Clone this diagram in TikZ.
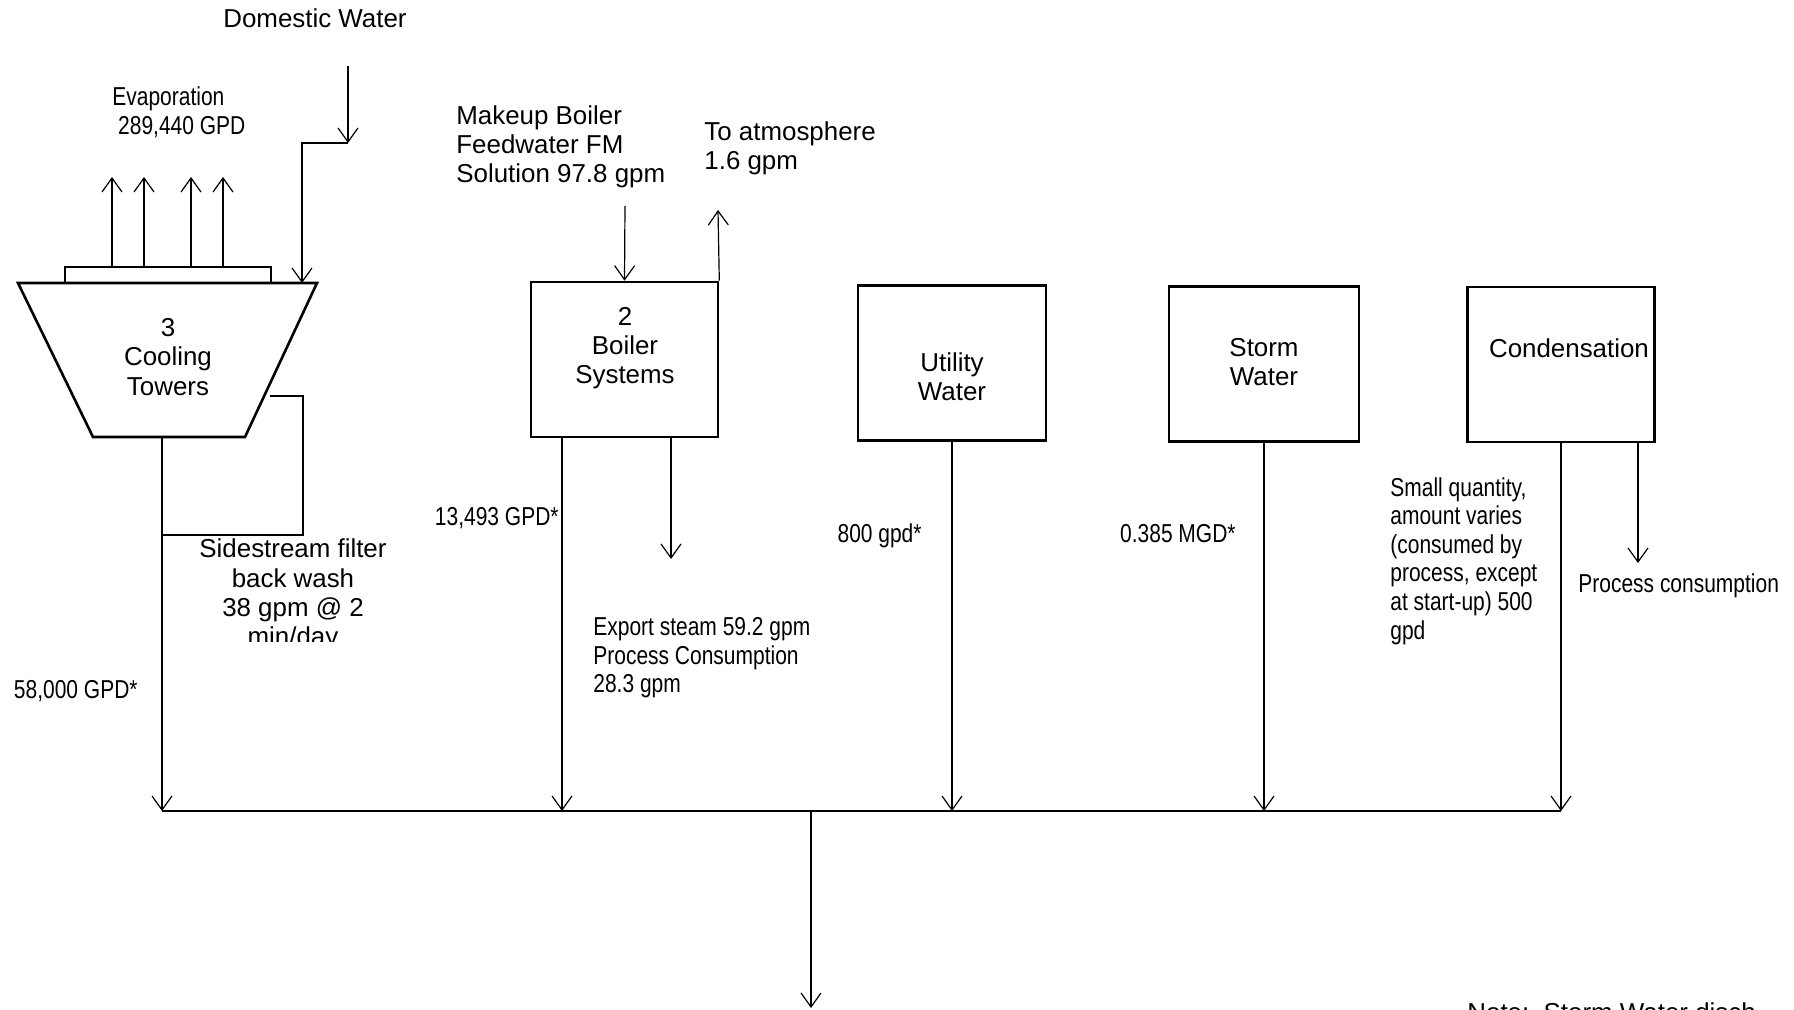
\documentclass[tikz,border=0pt]{standalone}
\usepackage{fontspec}
\setmainfont{Liberation Sans}
\newfontfamily\narrowsans[FakeStretch=0.81]{Liberation Sans}
\usetikzlibrary{arrows.meta}

\begin{document}
\begin{tikzpicture}[x=0.5pt, y=-0.5pt,
    every node/.style={font=\fontsize{12.95}{14.65}\selectfont, inner sep=0pt},
    narrow/.style={font=\narrowsans\fontsize{12.95}{14.3}\selectfont, align=left},
    unitbox/.style={draw, line width=1.3pt, minimum width=#1, minimum height=77.5pt},
    flow/.style={line width=0.6pt, -{Straight Barb[length=7pt, width=10pt, line width=0.6pt]}},
    pipe/.style={line width=0.6pt}]
  \useasboundingbox (0,0) rectangle (1794,1010);

  \node[anchor=base] (domestic) at (315,28) {Domestic Water};
  \node[narrow, anchor=west] (evap) at (112,112) {Evaporation\\\ 289,440 GPD};

  \draw[line width=1.3pt] (65,283) rectangle (271,267);
  \draw[line width=1.3pt] (18,283) -- (317,283) -- (245,437) -- (93,437) -- cycle;
  \node[align=center] (tower) at (168,357) {3\\Cooling\\Towers};

  \draw[flow] (112,267) -- (112,177);
  \draw[flow] (144,267) -- (144,177);
  \draw[flow] (191,267) -- (191,177);
  \draw[flow] (223,267) -- (223,177);

  \coordinate (dwin) at (348,66);
  \coordinate (dwbend) at (348,143);
  \coordinate (dwend) at (302,283);
  \draw[flow] (dwin) -- (dwbend);
  \draw[flow] (dwbend) -| (dwend);

  \draw[pipe] (270,396) -- (303,396) -- (303,535) -- (162,535);
  \begin{scope}
    \clip (150,520) rectangle (450,641);
    \node[align=center] (backwash) at (293,595) {Sidestream filter\\back wash\\38 gpm @ 2\\min/day};
  \end{scope}

  \coordinate (bus1) at (162,811);
  \draw[flow] (162,437) -- (bus1);
  \node[narrow, anchor=base east] (twrflow) at (138,698) {58,000 GPD*};

  \node[unitbox=93.5pt] (boiler) at (624.5,359.5) {};
  \node[align=center] (boilertxt) at (625,348) {2\\Boiler\\Systems};
  \node[anchor=west, align=left] (makeup) at (456,147) {Makeup Boiler\\Feedwater FM\\Solution 97.8 gpm};
  \node[anchor=west, align=left] (atmos) at (704,148) {To atmosphere\\1.6 gpm};
  \coordinate (mkin) at (625,206);
  \coordinate (atmout) at (718,210);
  \draw[flow] (mkin) -- (boiler.north);
  \draw[flow] (boiler.north east) -- (atmout);

  \coordinate (bus2) at (562,811);
  \coordinate (export) at (671,559);
  \draw[flow] (boiler.south -| bus2) -- (bus2);
  \draw[flow] (boiler.south -| export) -- (export);
  \node[narrow, anchor=base east] (bflow) at (559,525) {13,493 GPD*};
  \node[narrow, anchor=west] (exporttxt) at (593,658) {Export steam 59.2 gpm\\Process Consumption\\28.3 gpm};

  \node[unitbox=94pt] (utility) at (952,363) {};
  \node[align=center] (utiltxt) at (952,377) {Utility\\Water};
  \draw[flow] (utility.south) -- (utility.south |- bus1);
  \node[narrow, anchor=base east] (uflow) at (922,543) {800 gpd*};

  \node[unitbox=95pt] (storm) at (1264,364) {};
  \node[align=center] (stormtxt) at (1264,362) {Storm\\Water};
  \draw[flow] (storm.south) -- (storm.south |- bus1);
  \node[narrow, anchor=base east] (sflow) at (1236,543) {0.385 MGD*};

  \node[unitbox=93.5pt] (cond) at (1561,364.5) {};
  \node[anchor=base] (condtxt) at (1569,358) {Condensation};
  \coordinate (proc) at (1638,563);
  \draw[flow] (cond.south) -- (cond.south |- bus1);
  \draw[flow] (cond.south -| proc) -- (proc);
  \node[narrow, anchor=west] (smallq) at (1390,561) {Small quantity,\\amount varies\\(consumed by\\process, except\\at start-up) 500\\gpd};
  \node[narrow, anchor=base west] (proctxt) at (1578,592) {Process consumption};

  \coordinate (busend) at (1561,811);
  \draw[pipe] (bus1) -- (busend);
  \coordinate (out) at (811,1008);
  \draw[flow] (out |- bus1) -- (out);

  \node[anchor=base west] (note) at (1467,1021) {Note:\ \ Storm Water disch};
\end{tikzpicture}
\end{document}
